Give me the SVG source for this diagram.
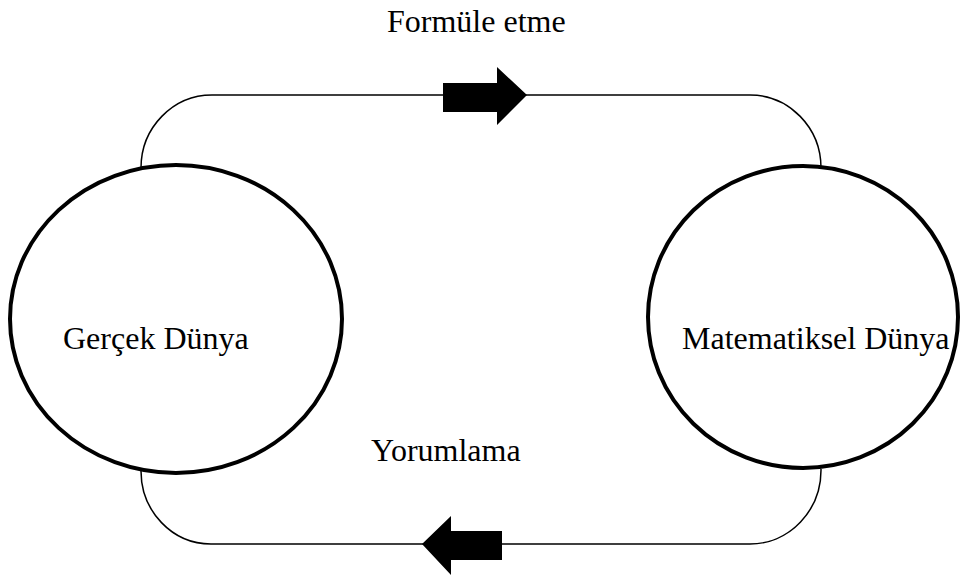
<svg xmlns="http://www.w3.org/2000/svg" width="960" height="576" viewBox="0 0 960 576">
<style>
.conn{fill:none;stroke:#000;stroke-width:1.5}
.arrow{fill:#000;stroke:none}
.node{fill:none;stroke:#000;stroke-width:4}
.lbl{font-family:"Liberation Serif","Times New Roman",serif;font-size:32px;fill:#000}
</style>
<rect width="960" height="576" fill="#fff"/>
<g id="connectors">
<path class="conn" d="M141,168 A71,73 0 0 1 212,95 H750 A71,73 0 0 1 821,168"/>
<path class="conn" d="M141,471 A70,73 0 0 0 211,544 H750 A71,74 0 0 0 821,469"/>
<polygon class="arrow" points="443,83 497,83 497,67 527,95 497,125 497,112 443,112"/>
<polygon class="arrow" points="422,544 451,516 451,531 502,531 502,560 451,560 451,575"/>
<text class="lbl" x="387" y="32">Formüle etme</text>
<text class="lbl" x="371" y="461">Yorumlama</text>
</g>
<g id="gercek">
<ellipse class="node" cx="176" cy="319" rx="166" ry="154"/>
<text class="lbl" x="63" y="349">Gerçek Dünya</text>
</g>
<g id="matematiksel">
<ellipse class="node" cx="803" cy="317" rx="155" ry="151"/>
<text class="lbl" x="682" y="349">Matematiksel Dünya</text>
</g>
</svg>
